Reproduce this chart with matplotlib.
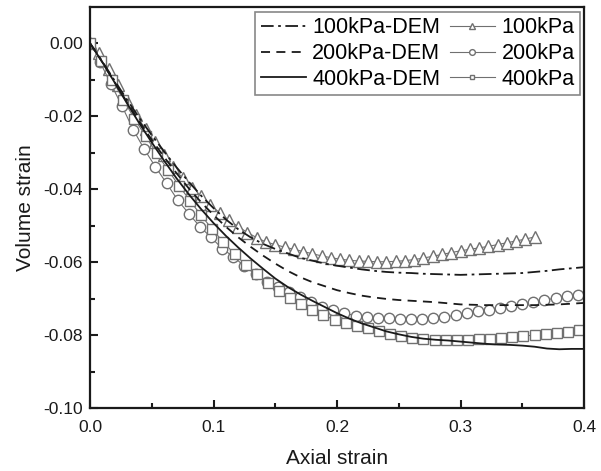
import matplotlib
matplotlib.use("Agg")
import matplotlib.pyplot as plt
from matplotlib.ticker import MultipleLocator, FormatStrFormatter

plt.rcParams['font.family'] = ['Liberation Sans', 'DejaVu Sans']

# ---------------- data ----------------
# DEM curves
dem_x = [0.00, 0.01, 0.02, 0.03, 0.04, 0.05, 0.06, 0.07, 0.08, 0.09, 0.10,
         0.11, 0.12, 0.13, 0.14, 0.15, 0.16, 0.17, 0.18, 0.19, 0.20,
         0.21, 0.22, 0.23, 0.24, 0.25, 0.26, 0.27, 0.28, 0.29, 0.30,
         0.31, 0.32, 0.33, 0.34, 0.35, 0.36, 0.37, 0.38, 0.39, 0.40]
dem100 = [0.0000, -0.0050, -0.0103, -0.0155, -0.0205, -0.0252, -0.0297, -0.0340, -0.0380, -0.0418, -0.0452,
          -0.0483, -0.0510, -0.0532, -0.0550, -0.0564, -0.0576, -0.0588, -0.0596, -0.0604, -0.0610,
          -0.0615, -0.0620, -0.0624, -0.0627, -0.0629, -0.0630, -0.0632, -0.0633, -0.0634, -0.0635,
          -0.0634, -0.0633, -0.0632, -0.0631, -0.0630, -0.0627, -0.0624, -0.0620, -0.0617, -0.0614]
dem200 = [0.0000, -0.0052, -0.0107, -0.0162, -0.0215, -0.0265, -0.0312, -0.0356, -0.0398, -0.0436, -0.0471,
          -0.0503, -0.0532, -0.0558, -0.0582, -0.0604, -0.0624, -0.0641, -0.0655, -0.0666, -0.0677,
          -0.0685, -0.0692, -0.0697, -0.0701, -0.0704, -0.0706, -0.0708, -0.0710, -0.0713, -0.0716,
          -0.0717, -0.0718, -0.0718, -0.0718, -0.0718, -0.0718, -0.0717, -0.0716, -0.0714, -0.0712]
dem400 = [0.0000, -0.0052, -0.0108, -0.0165, -0.0220, -0.0272, -0.0322, -0.0370, -0.0414, -0.0455, -0.0493,
          -0.0528, -0.0560, -0.0590, -0.0618, -0.0645, -0.0668, -0.0688, -0.0706, -0.0723, -0.0740,
          -0.0755, -0.0768, -0.0779, -0.0790, -0.0798, -0.0805, -0.0810, -0.0813, -0.0815, -0.0818,
          -0.0821, -0.0824, -0.0826, -0.0827, -0.0829, -0.0832, -0.0837, -0.0839, -0.0838, -0.0838]

# experimental curves
exp100_x = [0.0000, 0.0075, 0.0150, 0.0225, 0.0300, 0.0375, 0.0450, 0.0525, 0.0600, 0.0675,
            0.0750, 0.0825, 0.0900, 0.0975, 0.1050, 0.1125, 0.1200, 0.1275, 0.1350, 0.1425,
            0.1500, 0.1575, 0.1650, 0.1725, 0.1800, 0.1875, 0.1950, 0.2025, 0.2100, 0.2175,
            0.2250, 0.2325, 0.2400, 0.2475, 0.2550, 0.2625, 0.2700, 0.2775, 0.2850, 0.2925,
            0.3000, 0.3075, 0.3150, 0.3225, 0.3300, 0.3375, 0.3450, 0.3525, 0.3600]
exp100 = [0.0000, -0.0028, -0.0070, -0.0115, -0.0158, -0.0198, -0.0236, -0.0272, -0.0307, -0.0340,
          -0.0370, -0.0396, -0.0420, -0.0443, -0.0465, -0.0485, -0.0503, -0.0519, -0.0533, -0.0545,
          -0.0552, -0.0559, -0.0565, -0.0571, -0.0577, -0.0583, -0.0588, -0.0592, -0.0595, -0.0597,
          -0.0598, -0.0599, -0.0599, -0.0598, -0.0596, -0.0593, -0.0589, -0.0584, -0.0579, -0.0574,
          -0.0569, -0.0565, -0.0561, -0.0557, -0.0552, -0.0547, -0.0542, -0.0537, -0.0531]

exp200_x = [0.008, 0.017, 0.026, 0.035, 0.044, 0.053, 0.062, 0.071, 0.080, 0.089,
            0.098, 0.107, 0.116, 0.125, 0.134, 0.143, 0.152, 0.161, 0.170, 0.179,
            0.188, 0.197, 0.206, 0.215, 0.224, 0.233, 0.242, 0.251, 0.260, 0.269,
            0.278, 0.287, 0.296, 0.305, 0.314, 0.323, 0.332, 0.341, 0.350, 0.359,
            0.368, 0.377, 0.386, 0.395, 0.404]
exp200 = [-0.0051, -0.0112, -0.0173, -0.0237, -0.0291, -0.0339, -0.0384, -0.0430, -0.0467, -0.0503,
          -0.0532, -0.0563, -0.0585, -0.0611, -0.0633, -0.0654, -0.0668, -0.0681, -0.0696, -0.0710,
          -0.0722, -0.0731, -0.0740, -0.0747, -0.0751, -0.0753, -0.0754, -0.0755, -0.0755, -0.0755,
          -0.0753, -0.0750, -0.0746, -0.0740, -0.0735, -0.0731, -0.0726, -0.0721, -0.0716, -0.0710,
          -0.0704, -0.0699, -0.0694, -0.0690, -0.0687]

exp400_x = [0.000, 0.009, 0.018, 0.027, 0.036, 0.045, 0.054, 0.063, 0.072, 0.081,
            0.090, 0.099, 0.108, 0.117, 0.126, 0.135, 0.144, 0.153, 0.162, 0.171,
            0.180, 0.189, 0.198, 0.207, 0.216, 0.225, 0.234, 0.243, 0.252, 0.261,
            0.270, 0.279, 0.288, 0.297, 0.306, 0.315, 0.324, 0.333, 0.342, 0.351,
            0.360, 0.369, 0.378, 0.387, 0.396]
exp400 = [0.0000, -0.0048, -0.0100, -0.0155, -0.0207, -0.0255, -0.0302, -0.0347, -0.0390, -0.0432,
          -0.0472, -0.0510, -0.0545, -0.0578, -0.0607, -0.0634, -0.0658, -0.0680, -0.0698, -0.0716,
          -0.0731, -0.0746, -0.0758, -0.0767, -0.0774, -0.0782, -0.0790, -0.0798, -0.0804, -0.0808,
          -0.0811, -0.0813, -0.0814, -0.0814, -0.0813, -0.0812, -0.0810, -0.0808, -0.0806, -0.0803,
          -0.0800, -0.0797, -0.0794, -0.0791, -0.0785]

x_ticks = [0.0, 0.1, 0.2, 0.3, 0.4]
y_ticks = [0.00, -0.02, -0.04, -0.06, -0.08, -0.10]

# ---------------- plot ----------------
fig = plt.figure(figsize=(6.01, 4.71), dpi=100)
ax = fig.add_axes([0.1498, 0.1338, 0.8219, 0.851])

grey = '#707070'
ax.plot(dem_x, dem100, color='#1a1a1a', lw=1.3, ls=(0, (7, 2.5, 1.5, 2.5)), label='100kPa-DEM', zorder=3)
ax.plot(dem_x, dem200, color='#1a1a1a', lw=1.3, ls=(0, (5, 3.5)), label='200kPa-DEM', zorder=3)
ax.plot(dem_x, dem400, color='#1a1a1a', lw=1.3, ls='-', label='400kPa-DEM', zorder=3)

ax.plot(exp100_x, exp100, color=grey, lw=0.8, marker='^', ms=8.5, mfc='white', mec=grey, mew=1.0,
        label='100kPa', zorder=2)
ax.plot(exp200_x, exp200, color=grey, lw=0.8, marker='o', ms=7.5, mfc='white', mec=grey, mew=1.0,
        label='200kPa', zorder=2)
ax.plot(exp400_x, exp400, color=grey, lw=0.8, marker='s', ms=6.5, mfc='white', mec=grey, mew=1.0,
        label='400kPa', zorder=2)

ax.set_xlim(0, 0.4)
ax.set_ylim(-0.10, 0.0099)
ax.set_xticks(x_ticks)
ax.set_yticks(y_ticks)
ax.xaxis.set_major_formatter(FormatStrFormatter('%.1f'))
ax.yaxis.set_major_formatter(FormatStrFormatter('%.2f'))
ax.xaxis.set_minor_locator(MultipleLocator(0.05))
ax.yaxis.set_minor_locator(MultipleLocator(0.01))
ax.tick_params(which='both', direction='in', top=False, right=False, width=1.5, colors='#1a1a1a')
ax.tick_params(axis='x', which='major', pad=9)
ax.tick_params(axis='y', which='major', pad=5)
ax.tick_params(which='major', length=6, labelsize=12.5)
ax.tick_params(which='minor', length=3.5)
for s in ax.spines.values():
    s.set_linewidth(1.6)
    s.set_color('#1a1a1a')

ax.set_xlabel('Axial strain', fontsize=15, labelpad=10, color='#1a1a1a')
ax.set_ylabel('Volume strain', fontsize=15, labelpad=6, color='#1a1a1a')

leg = ax.legend(ncol=2, loc='upper right', bbox_to_anchor=(0.992, 0.988), borderaxespad=0,
                fontsize=15.5, fancybox=False, edgecolor='#888888', framealpha=1,
                handlelength=2.1, handletextpad=0.3, columnspacing=0.45, labelspacing=0.22,
                borderpad=0.25, markerscale=0.55)
leg.get_frame().set_linewidth(1.2)

fig.savefig('out.png', dpi=100)
